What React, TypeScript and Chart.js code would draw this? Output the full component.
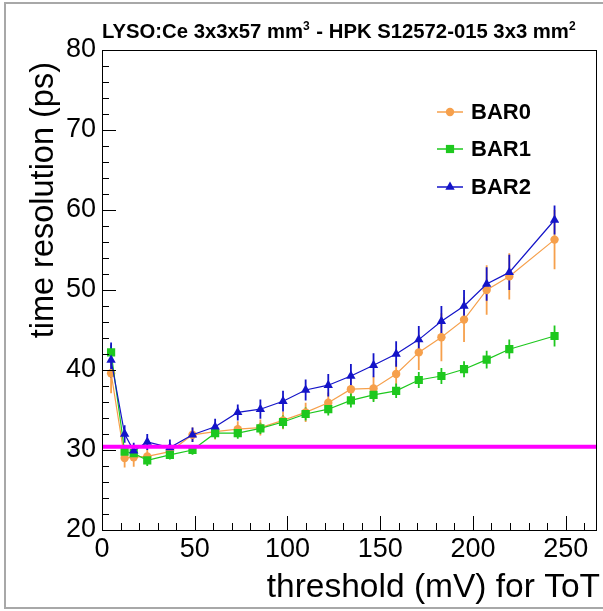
import React, { useEffect, useRef } from "react";
import { Chart, registerables } from "chart.js";

Chart.register(...registerables);

// ---------- data ----------
const thresholds = [4.9, 12.2, 17.1, 24.4, 36.6, 48.8, 61.0, 73.2, 85.4, 97.6, 109.8, 122.0, 134.2, 146.4, 158.6, 170.8, 183.0, 195.2, 207.4, 219.6, 244.0];

const bar0 = [39.6, 29.0, 29.1, 29.2, 29.8, 31.9, 32.3, 32.6, 32.8, 33.7, 34.7, 35.9, 37.6, 37.7, 39.5, 42.2, 44.1, 46.3, 50.0, 51.7, 56.3];
const bar0Err = [2.5, 1.2, 1.2, 1.0, 0.9, 0.9, 1.0, 1.0, 1.0, 1.1, 1.2, 1.3, 1.3, 1.5, 1.7, 2.2, 3.0, 2.8, 3.1, 2.9, 3.7];

const bar1 = [42.2, 29.8, 29.6, 28.7, 29.4, 30.0, 32.1, 32.1, 32.7, 33.5, 34.5, 35.1, 36.2, 36.9, 37.4, 38.75, 39.25, 40.1, 41.3, 42.6, 44.25];
const bar1Err = [1.0, 0.7, 0.7, 0.7, 0.6, 0.6, 0.7, 0.7, 0.7, 0.8, 0.8, 0.8, 0.9, 0.9, 0.9, 1.0, 1.0, 1.0, 1.1, 1.2, 1.3];

const bar2 = [41.25, 32.0, 29.9, 31.0, 30.3, 31.9, 32.9, 34.7, 35.1, 36.1, 37.5, 38.1, 39.25, 40.6, 42.0, 43.8, 46.1, 48.0, 50.75, 52.2, 58.75];
const bar2Err = [2.2, 1.1, 1.0, 1.0, 1.0, 0.9, 1.0, 1.0, 1.2, 1.3, 1.3, 1.4, 1.5, 1.5, 1.6, 1.7, 1.9, 2.0, 2.1, 2.2, 1.8];

const seriesNames = ["BAR0", "BAR1", "BAR2"];
const targetLevel = 30.4;
const xRange = [0, 267];
const yRange = [20, 80];
const xTickLabels = [0, 50, 100, 150, 200, 250];
const yTickLabels = [20, 30, 40, 50, 60, 70, 80];

const titleParts = ["LYSO:Ce 3x3x57 mm", "3", " - HPK S12572-015 3x3 mm", "2"];
const xTitle = "threshold (mV) for ToT";
const yTitle = "time resolution (ps)";

// ---------- styles ----------
const ORANGE = "#f6a04c";
const GREEN = "#1ec81e";
const BLUE = "#1414c8";
const MAGENTA = "#ff00ff";
const FONT = "'Liberation Sans', Arial, Helvetica, sans-serif";

const seriesStyles = [
  { color: ORANGE, style: "circle", radius: 4.2 },
  { color: GREEN, style: "rect", radius: 5.8 },
  { color: BLUE, style: "triangle", radius: 5.4 },
];

function drawMarker(ctx: CanvasRenderingContext2D, style: string, x: number, y: number, r: number, color: string) {
  ctx.save();
  ctx.fillStyle = color;
  ctx.beginPath();
  if (style === "circle") {
    ctx.arc(x, y, r, 0, Math.PI * 2);
  } else if (style === "rect") {
    const s = Math.SQRT1_2 * r;
    ctx.rect(x - s, y - s, 2 * s, 2 * s);
  } else {
    const a = Math.PI / 2;
    for (let i = 0; i < 3; i++) {
      const ang = -a + (i * 2 * Math.PI) / 3;
      const px = x + r * Math.cos(ang);
      const py = y + r * Math.sin(ang);
      if (i === 0) ctx.moveTo(px, py);
      else ctx.lineTo(px, py);
    }
    ctx.closePath();
  }
  ctx.fill();
  ctx.restore();
}

const errorSets = [bar0Err, bar1Err, bar2Err];

const rootPlugin = {
  id: "rootStyle",
  beforeDatasetsDraw(chart: any) {
    const { ctx, chartArea, scales } = chart;
    const xs = scales.x;
    const ys = scales.y;
    ctx.save();
    ctx.beginPath();
    ctx.rect(chartArea.left, chartArea.top, chartArea.right - chartArea.left, chartArea.bottom - chartArea.top);
    ctx.clip();
    const vals = [bar0, bar1, bar2];
    vals.forEach((arr, si) => {
      ctx.strokeStyle = seriesStyles[si].color;
      ctx.lineWidth = 1.8;
      arr.forEach((v, i) => {
        const e = errorSets[si][i];
        const px = xs.getPixelForValue(thresholds[i]);
        ctx.beginPath();
        ctx.moveTo(px, ys.getPixelForValue(v - e));
        ctx.lineTo(px, ys.getPixelForValue(v + e));
        ctx.stroke();
      });
    });
    ctx.restore();
  },
  afterDraw(chart: any) {
    const { ctx, chartArea, scales } = chart;
    const xs = scales.x;
    const ys = scales.y;
    const { left, right, top, bottom } = chartArea;
    ctx.save();

    // outer gray frame
    ctx.strokeStyle = "#a8a8a8";
    ctx.lineWidth = 2;
    ctx.beginPath();
    ctx.moveTo(605, 3);
    ctx.lineTo(5, 3);
    ctx.lineTo(5, 608);
    ctx.lineTo(605, 608);
    ctx.stroke();

    // axis box
    ctx.strokeStyle = "#000";
    ctx.lineWidth = 1;
    ctx.strokeRect(Math.round(left) + 0.5, Math.round(top) + 0.5, Math.round(right - left) - 1, Math.round(bottom - top));

    // x ticks
    for (let v = 0; v <= xRange[1]; v += 10) {
      const px = Math.round(xs.getPixelForValue(v)) + 0.5;
      const len = v % 50 === 0 ? 14 : 7;
      ctx.beginPath();
      ctx.moveTo(px, bottom);
      ctx.lineTo(px, bottom - len);
      ctx.stroke();
    }
    // y ticks
    for (let v = yRange[0]; v <= yRange[1]; v += 2) {
      const py = Math.round(ys.getPixelForValue(v)) + 0.5;
      const len = v % 10 === 0 ? 14 : 7;
      ctx.beginPath();
      ctx.moveTo(left, py);
      ctx.lineTo(left + len, py);
      ctx.stroke();
    }

    // title with superscripts
    ctx.fillStyle = "#000";
    ctx.textBaseline = "alphabetic";
    ctx.textAlign = "left";
    let tx = 102;
    const ty = 38;
    titleParts.forEach((p, i) => {
      const sup = i % 2 === 1;
      ctx.font = `bold ${sup ? 12 : 20.3}px ${FONT}`;
      ctx.fillText(p, tx, sup ? ty - 8 : ty);
      tx += ctx.measureText(p).width + (sup ? 1 : 0);
    });

    // axis titles
    ctx.font = `33.5px ${FONT}`;
    ctx.textAlign = "right";
    ctx.fillText(xTitle, 600, 597);
    ctx.font = `32.5px ${FONT}`;
    ctx.save();
    ctx.translate(53, 62);
    ctx.rotate(-Math.PI / 2);
    ctx.fillText(yTitle, 0, 0);
    ctx.restore();

    // legend
    const legY = [112, 149, 187];
    seriesNames.forEach((name, i) => {
      const st = seriesStyles[i];
      ctx.strokeStyle = st.color;
      ctx.lineWidth = 1.5;
      ctx.beginPath();
      ctx.moveTo(437, legY[i]);
      ctx.lineTo(463, legY[i]);
      ctx.stroke();
      drawMarker(ctx, st.style, 450, legY[i], st.radius, st.color);
      ctx.fillStyle = "#000";
      ctx.font = `bold 22px ${FONT}`;
      ctx.textAlign = "left";
      ctx.textBaseline = "middle";
      ctx.fillText(name, 471, legY[i] + 1);
    });
    ctx.restore();
  },
};

export default function App() {
  const ref = useRef<HTMLCanvasElement | null>(null);
  useEffect(() => {
    if (!ref.current) return;
    const mk = (vals: number[]) => vals.map((v, i) => ({ x: thresholds[i], y: v }));
    const vals = [bar0, bar1, bar2];
    const datasets: any[] = vals.map((arr, i) => ({
      label: seriesNames[i],
      data: mk(arr),
      showLine: true,
      borderColor: seriesStyles[i].color,
      backgroundColor: seriesStyles[i].color,
      borderWidth: 1.2,
      pointStyle: seriesStyles[i].style,
      pointRadius: seriesStyles[i].radius,
      pointBorderWidth: 0,
      pointHoverRadius: seriesStyles[i].radius,
      order: 3 - i,
    }));
    datasets.push({
      label: "target",
      data: [
        { x: xRange[0], y: targetLevel },
        { x: xRange[1], y: targetLevel },
      ],
      showLine: true,
      borderColor: MAGENTA,
      borderWidth: 4,
      pointRadius: 0,
      order: -1,
    });
    const chart = new Chart(ref.current, {
      type: "scatter",
      data: { datasets },
      plugins: [rootPlugin],
      options: {
        animation: false,
        responsive: false,
        devicePixelRatio: 1,
        layout: { padding: { left: 0, top: 50, right: 3, bottom: 0 } },
        plugins: { legend: { display: false }, tooltip: { enabled: false }, title: { display: false } },
        scales: {
          x: {
            type: "linear",
            min: xRange[0],
            max: xRange[1],
            afterFit: (s: any) => {
              s.height = 81;
            },
            afterBuildTicks: (s: any) => {
              s.ticks = xTickLabels.map((v) => ({ value: v }));
            },
            grid: { display: false, drawTicks: false },
            border: { display: false },
            ticks: {
              autoSkip: false,
              maxRotation: 0,
              color: "#000",
              padding: 3,
              font: { family: FONT, size: 27 },
            },
          },
          y: {
            type: "linear",
            min: yRange[0],
            max: yRange[1],
            afterFit: (s: any) => {
              s.width = 102;
            },
            afterBuildTicks: (s: any) => {
              s.ticks = yTickLabels.map((v) => ({ value: v }));
            },
            grid: { display: false, drawTicks: false },
            border: { display: false },
            ticks: {
              autoSkip: false,
              color: "#000",
              padding: 6,
              font: { family: FONT, size: 27 },
            },
          },
        },
      },
    });
    return () => chart.destroy();
  }, []);
  return (
    <div style={{ position: "fixed", left: 0, top: 0, width: 603, height: 611, background: "#fff" }}>
      <canvas ref={ref} width={603} height={611} style={{ width: 603, height: 611, display: "block" }} />
    </div>
  );
}
